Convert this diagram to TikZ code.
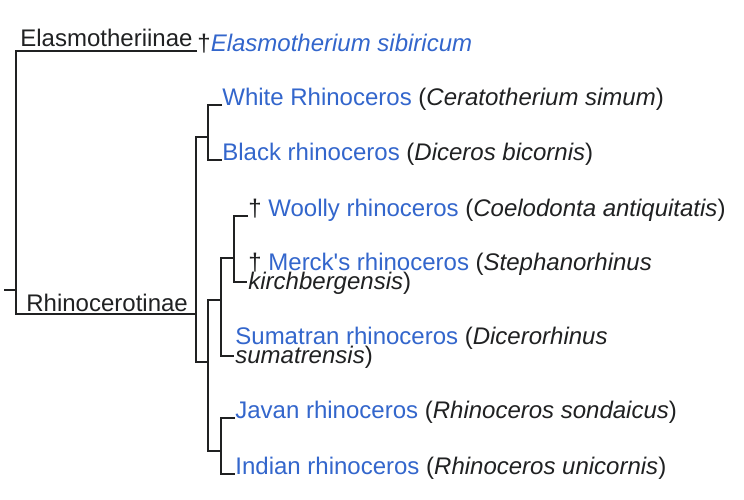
\documentclass[tikz,border=0pt]{standalone}
\usepackage{fontspec}
\setmainfont{Liberation Sans}
\usepackage{xcolor}
\usepackage{tikz}
\usetikzlibrary{positioning}
\definecolor{ink}{HTML}{202122}
\definecolor{wikilink}{HTML}{3366CC}
\newcommand{\cladefont}{\fontsize{12}{9.5}\selectfont\setlength{\lineskiplimit}{-20pt}}
\tikzset{
  clade/.style ={anchor=base west,inner sep=0pt,text=ink,font=\cladefont},
  taxon/.style ={clade,align=left},
  branch/.style={draw=ink,line width=0.7pt}
}
\newcommand{\lnk}[1]{\textcolor{wikilink}{#1}}
\newcommand{\sci}[1]{(\textit{#1})}

\begin{document}
\begin{tikzpicture}[x=0.5pt,y=-0.5pt]
    \useasboundingbox[fill=white] (0,0) rectangle (744,499);
    \node[clade] (elas) at (20,46) {Elasmotheriinae};
    \node[clade] (rhin) at (26,311) {Rhinocerotinae};
    \node[taxon] (sib) at (197,51) {†\lnk{\textit{Elasmotherium sibiricum}}};
    \node[taxon] (white) at (222,105) {\lnk{White Rhinoceros} \sci{Ceratotherium simum}};
    \node[taxon] (black) at (222,160) {\lnk{Black rhinoceros} \sci{Diceros bicornis}};
    \node[taxon] (woolly) at (248,216) {† \lnk{Woolly rhinoceros} \sci{Coelodonta antiquitatis}};
    \node[taxon] (merck) at (248,289) {† \lnk{Merck\textquotesingle s rhinoceros} (\textit{Stephanorhinus}\\\textit{kirchbergensis})};
    \node[taxon] (sumatra) at (235,363) {\lnk{Sumatran rhinoceros} (\textit{Dicerorhinus}\\\textit{sumatrensis})};
    \node[taxon] (javan) at (235,418) {\lnk{Javan rhinoceros} \sci{Rhinoceros sondaicus}};
    \node[taxon] (indian) at (235,474) {\lnk{Indian rhinoceros} \sci{Rhinoceros unicornis}};
    \coordinate (stub) at (4,290);
    \coordinate (n0) at (16,290);
    \coordinate (n1) at (196,314);
    \coordinate (n2) at (208,137);
    \coordinate (n3) at (208,362);
    \coordinate (n4) at (221,300);
    \coordinate (n5) at (221,451);
    \coordinate (n6) at (234,258);
    \coordinate (merckend) at (247,282);
    \coordinate (sumend) at (234,356);
    \draw[branch] (stub) -- (n0);
    \draw[branch] (sib.base west) -| (n0) |- (n1);
    \draw[branch] (n1) |- (n2); \draw[branch] (n1) |- (n3);
    \draw[branch] (white.base west) -| (n2) |- (black.base west);
    \draw[branch] (n4) -| (n3) |- (n5);
    \draw[branch] (n6) -| (n4) |- (sumend);
    \draw[branch] (woolly.base west) -| (n6) |- (merckend);
    \draw[branch] (javan.base west) -| (n5) |- (indian.base west);
\end{tikzpicture}
\end{document}
